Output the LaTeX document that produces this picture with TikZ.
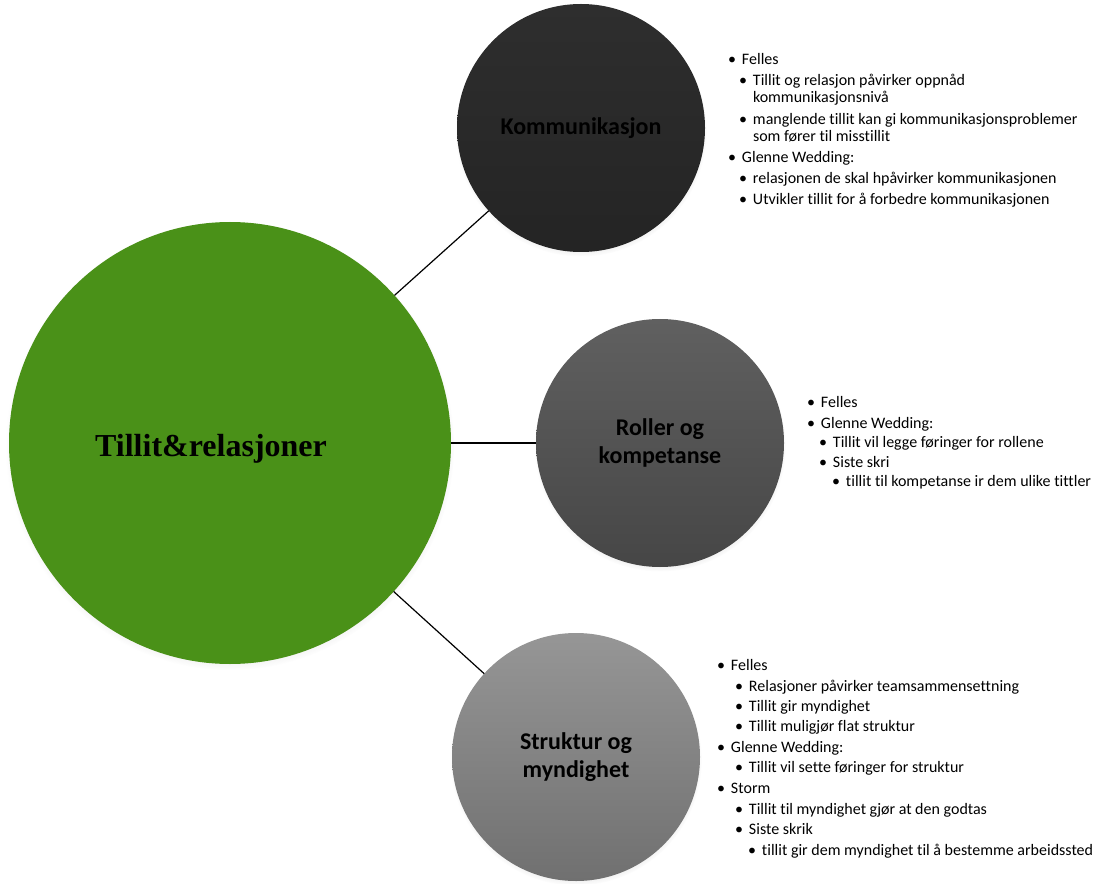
\documentclass[tikz,border=0pt]{standalone}
\usepackage{fontspec}
\setmainfont{Carlito}[Ligatures={NoCommon}]
\newfontfamily\hubfont{Liberation Serif}
\usetikzlibrary{shadows}
\definecolor{hubgreen}{RGB}{74,145,24}
\definecolor{kTop}{RGB}{46,46,46}
\definecolor{kBot}{RGB}{36,36,36}
\definecolor{rTop}{RGB}{96,96,96}
\definecolor{rBot}{RGB}{70,70,70}
\definecolor{sTop}{RGB}{150,150,150}
\definecolor{sBot}{RGB}{112,112,112}
\newcommand\bl{\llap{•\hspace{4.5pt}}}
\tikzset{
  softshadow/.style={circular drop shadow={shadow xshift=0pt, shadow yshift=-2pt, shadow scale=1.015, opacity=0.35}},
  hub/.style={circle, fill=hubgreen, minimum size=331.5pt, inner sep=0pt, outer sep=0pt, softshadow},
  hubtext/.style={inner sep=0pt, font=\hubfont\bfseries\fontsize{24}{28}\selectfont},
  topic/.style={circle, minimum size=186pt, inner sep=0pt, outer sep=0pt, softshadow, align=center, text=black,
    font=\bfseries\fontsize{18}{21}\selectfont},
  itm/.style={anchor=base west, inner sep=0pt, outer sep=0pt, font=\fontsize{12}{14}\selectfont},
  link/.style={draw=black, line width=0.9pt}
}
\begin{document}
\begin{tikzpicture}[x=0.75pt, y=-0.75pt]
\useasboundingbox (0,0) rectangle (1096,884);
% circles
\node[hub] (hub) at (230,443) {};
\node[hubtext] (hubl) at (211,449) {Tillit\&relasjoner};
\node[topic, top color=kTop, bottom color=kBot] (kom) at (581,128) {Kommunikasjon};
\node[topic, top color=rTop, bottom color=rBot] (rol) at (660,443) {Roller og\\kompetanse};
\node[topic, top color=sTop, bottom color=sBot] (str) at (576,757) {Struktur og\\myndighet};
% connectors
\draw[link] (hub) -- (kom);
\draw[link] (hub) -- (rol);
\draw[link] (hub) -- (str);
% Kommunikasjon list
\node[itm] (k1) at (742,65) {\bl Felles};
\node[itm] (k2) at (753,86) {\bl Tillit og relasjon påvirker oppnåd};
\node[itm] (k3) at (753,103) {kommunikasjonsnivå};
\node[itm] (k4) at (753,125) {\bl manglende tillit kan gi kommunikasjonsproblemer};
\node[itm] (k5) at (753,142) {som fører til misstillit};
\node[itm] (k6) at (742,163) {\bl Glenne Wedding:};
\node[itm] (k7) at (753,184) {\bl relasjonen de skal hpåvirker kommunikasjonen};
\node[itm] (k8) at (753,205) {\bl Utvikler tillit for å forbedre kommunikasjonen};
% Roller list
\node[itm] (r1) at (821,407) {\bl Felles};
\node[itm] (r2) at (821,428) {\bl Glenne Wedding:};
\node[itm] (r3) at (833,447) {\bl Tillit vil legge føringer for rollene};
\node[itm] (r4) at (833,467) {\bl Siste skri};
\node[itm] (r5) at (846,486) {\bl tillit til kompetanse ir dem ulike tittler};
% Struktur list
\node[itm] (s1) at (731,670) {\bl Felles};
\node[itm] (s2) at (749,691) {\bl Relasjoner påvirker teamsammensettning};
\node[itm] (s3) at (749,711) {\bl Tillit gir myndighet};
\node[itm] (s4) at (749,731) {\bl Tillit muligjør flat struktur};
\node[itm] (s5) at (731,752) {\bl Glenne Wedding:};
\node[itm] (s6) at (749,772) {\bl Tillit vil sette føringer for struktur};
\node[itm] (s7) at (731,793) {\bl Storm};
\node[itm] (s8) at (749,814) {\bl Tillit til myndighet gjør at den godtas};
\node[itm] (s9) at (749,834) {\bl Siste skrik};
\node[itm] (s10) at (762,855) {\bl tillit gir dem myndighet til å bestemme arbeidssted};
\end{tikzpicture}
\end{document}
